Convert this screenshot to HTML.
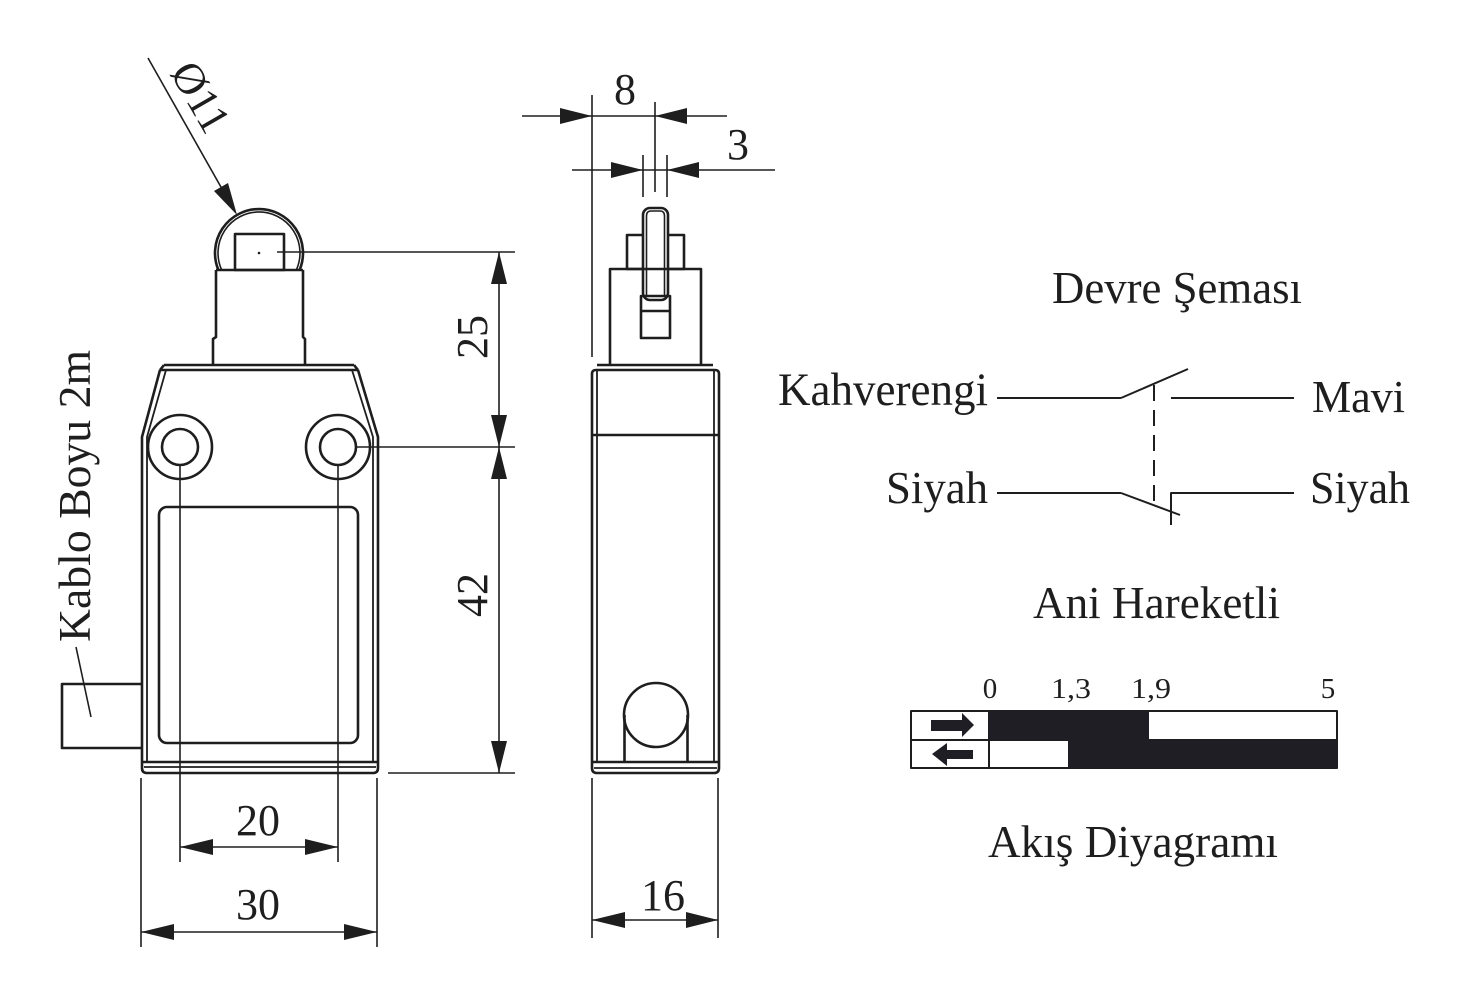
<!DOCTYPE html>
<html>
<head>
<meta charset="utf-8">
<style>
html,body{margin:0;padding:0;background:#fff;}
svg{display:block;}
text{font-family:"Liberation Serif","DejaVu Serif",serif;fill:#1e1e1e;}
</style>
</head>
<body>
<svg width="1469" height="1006" viewBox="0 0 1469 1006" xmlns="http://www.w3.org/2000/svg">
<rect width="1469" height="1006" fill="#fff"/>
<g fill="none" stroke="#1e1e1e" stroke-linecap="butt" stroke-linejoin="round">

<!-- ============ FRONT VIEW ============ -->
<g stroke-width="2.6">
  <!-- roller arcs -->
  <path d="M218.4,270 A44,44 0 1 1 299.6,270"/>
  <path d="M221.7,270 A41,41 0 1 1 296.3,270" stroke-width="1.6"/>
  <!-- square in roller -->
  <rect x="235" y="234" width="49" height="36"/>
  <!-- plunger -->
  <path d="M216,270 L303,270 M216,270 L216,337 L213,339 L213,364 M303,270 L303,337 L305,339 L305,364"/>
  <!-- body top double line -->
  <path d="M164,365 L354,365"/>
  <path d="M160,370 L358,370"/>
  <!-- outer chamfer + sides -->
  <path d="M160,370 L142,437 L142,768 Q142,773 147,773 L373,773 Q378,773 378,768 L378,437 L358,370"/>
  <path d="M164,365 L160,370 M354,365 L358,370"/>
  <!-- inner lines -->
  <path d="M166,370 L147,437 L147,762" stroke-width="1.8"/>
  <path d="M352,370 L373,437 L373,762" stroke-width="1.8"/>
  <path d="M142,762 L378,762"/>
  <path d="M144,767 L376,767" stroke-width="1.8"/>
  <!-- holes -->
  <circle cx="180" cy="447" r="32"/>
  <circle cx="180" cy="447" r="18"/>
  <circle cx="338" cy="447" r="32"/>
  <circle cx="338" cy="447" r="18"/>
  <!-- inner rounded rect -->
  <rect x="159" y="507" width="199" height="236" rx="8"/>
  <!-- cable -->
  <path d="M141,684 L62,684 L62,748 L141,748"/>
</g>
<circle cx="259" cy="253" r="1.3" fill="#1e1e1e" stroke="none"/>

<!-- front dims thin -->
<g stroke-width="1.6">
  <!-- Ø11 leader -->
  <line x1="148" y1="58" x2="230" y2="203"/>
  <!-- cable leader -->
  <line x1="76" y1="647" x2="91" y2="717"/>
  <!-- vertical dims -->
  <line x1="277" y1="252" x2="515" y2="252"/>
  <line x1="357" y1="447" x2="515" y2="447"/>
  <line x1="388" y1="773" x2="515" y2="773"/>
  <line x1="499" y1="252" x2="499" y2="773"/>
  <!-- 20 -->
  <line x1="180" y1="465" x2="180" y2="862"/>
  <line x1="338" y1="465" x2="338" y2="862"/>
  <line x1="180" y1="847" x2="338" y2="847"/>
  <!-- 30 -->
  <line x1="141" y1="778" x2="141" y2="947"/>
  <line x1="377" y1="778" x2="377" y2="947"/>
  <line x1="141" y1="932" x2="377" y2="932"/>
</g>

<!-- ============ SIDE VIEW ============ -->
<g stroke-width="2.6">
  <!-- roller -->
  <rect x="643" y="208" width="25" height="92" rx="7"/>
  <path d="M646.5,296 L646.5,216 Q646.5,211 651,211 L660,211 Q664.5,211 664.5,216 L664.5,296" stroke-width="1.6"/>
  <rect x="641" y="296" width="29" height="42"/>
  <line x1="641" y1="311" x2="670" y2="311"/>
  <!-- side blocks -->
  <path d="M643,269 L627,269 L627,235 L643,235"/>
  <path d="M668,269 L684,269 L684,235 L668,235"/>
  <!-- plunger base -->
  <path d="M610,365 L610,269 L701,269 L701,365"/>
  <!-- body -->
  <path d="M597,365 L713,365"/>
  <path d="M592,768 L592,374 Q592,370 596,370 L715,370 Q719,370 719,374 L719,768 Q719,773 714,773 L597,773 Q592,773 592,768 Z"/>
  <path d="M597,370 L597,762 M714,370 L714,762" stroke-width="1.8"/>
  <line x1="592" y1="435" x2="719" y2="435"/>
  <line x1="592" y1="762" x2="719" y2="762"/>
  <line x1="594" y1="768" x2="717" y2="768" stroke-width="1.8"/>
  <!-- circle -->
  <circle cx="656" cy="715" r="32"/>
  <path d="M624.5,715 L624.5,762 M687.5,715 L687.5,762"/>
</g>
<g stroke-width="1.6">
  <!-- dim 8 -->
  <line x1="522" y1="116" x2="727" y2="116"/>
  <line x1="592" y1="95" x2="592" y2="357"/>
  <line x1="655" y1="102" x2="655" y2="192"/>
  <!-- dim 3 -->
  <line x1="572" y1="170" x2="775" y2="170"/>
  <line x1="643" y1="155" x2="643" y2="197"/>
  <line x1="667" y1="155" x2="667" y2="197"/>
  <!-- dim 16 -->
  <line x1="592" y1="778" x2="592" y2="938"/>
  <line x1="718" y1="778" x2="718" y2="938"/>
  <line x1="592" y1="920" x2="718" y2="920"/>
</g>

<!-- ============ SCHEMATIC ============ -->
<g stroke-width="2">
  <line x1="997" y1="398" x2="1121" y2="398"/>
  <line x1="1121" y1="398" x2="1188" y2="369"/>
  <line x1="1171" y1="398" x2="1294" y2="398"/>
  <line x1="997" y1="493" x2="1121" y2="493"/>
  <line x1="1121" y1="493" x2="1180" y2="515"/>
  <path d="M1294,493 L1171,493 L1171,525"/>
  <line x1="1154" y1="385" x2="1154" y2="505" stroke-dasharray="16,9"/>
</g>

<!-- ============ TABLE ============ -->
<g stroke-width="2">
  <rect x="911" y="711" width="426" height="57"/>
  <line x1="911" y1="740" x2="1337" y2="740"/>
  <line x1="989" y1="711" x2="989" y2="768"/>
</g>
</g>

<!-- filled shapes -->
<g fill="#1e1e24" stroke="none">
  <rect x="989" y="711" width="160" height="29"/>
  <rect x="1068" y="740" width="269" height="28"/>
  <!-- table arrows -->
  <polygon points="931,720 962,720 962,713 974,725 962,737 962,731 931,731"/>
  <polygon points="932,754 947,743 947,750 973,750 973,759 947,759 947,766"/>
</g>

<g fill="#1e1e1e" stroke="none">
  <!-- Ø11 arrowhead -->
  <polygon points="237,215 228,183 214,191"/>
  <!-- vertical dims -->
  <polygon points="499,252 491,284 507,284"/>
  <polygon points="499,447 491,415 507,415"/>
  <polygon points="499,447 491,479 507,479"/>
  <polygon points="499,773 491,741 507,741"/>
  <!-- 20 -->
  <polygon points="180,847 213,839 213,855"/>
  <polygon points="338,847 305,839 305,855"/>
  <!-- 30 -->
  <polygon points="141,932 174,924 174,940"/>
  <polygon points="377,932 344,924 344,940"/>
  <!-- 8 -->
  <polygon points="592,116 560,108 560,124"/>
  <polygon points="655,116 687,108 687,124"/>
  <!-- 3 -->
  <polygon points="643,170 611,162 611,178"/>
  <polygon points="667,170 699,162 699,178"/>
  <!-- 16 -->
  <polygon points="592,920 625,912 625,928"/>
  <polygon points="718,920 686,912 686,928"/>
</g>

<!-- ============ TEXT ============ -->
<g font-size="44">
  <text transform="translate(201,97) rotate(60)" x="0" y="15" text-anchor="middle">Ø11</text>
  <text transform="translate(90,642) rotate(-90)" x="0" y="0" textLength="292" lengthAdjust="spacingAndGlyphs" font-size="45">Kablo Boyu 2m</text>
  <text transform="translate(472,337) rotate(-90)" x="0" y="15" text-anchor="middle">25</text>
  <text transform="translate(472,595) rotate(-90)" x="0" y="15" text-anchor="middle">42</text>
  <text x="258" y="835" text-anchor="middle">20</text>
  <text x="258" y="919" text-anchor="middle">30</text>
  <text x="625" y="104" text-anchor="middle">8</text>
  <text x="738" y="159" text-anchor="middle">3</text>
  <text x="663" y="910" text-anchor="middle">16</text>

  <text x="1052" y="303" textLength="250" lengthAdjust="spacingAndGlyphs" font-size="46">Devre Şeması</text>
  <text x="778" y="405" textLength="210" lengthAdjust="spacingAndGlyphs" font-size="47">Kahverengi</text>
  <text x="1312" y="412" textLength="93" lengthAdjust="spacingAndGlyphs" font-size="46">Mavi</text>
  <text x="886" y="503" textLength="102" lengthAdjust="spacingAndGlyphs" font-size="46">Siyah</text>
  <text x="1310" y="503" textLength="100" lengthAdjust="spacingAndGlyphs" font-size="46">Siyah</text>
  <text x="1033" y="618" textLength="247" lengthAdjust="spacingAndGlyphs" font-size="46">Ani Hareketli</text>
  <text x="988" y="857" textLength="290" lengthAdjust="spacingAndGlyphs" font-size="46">Akış Diyagramı</text>
</g>
<g font-size="29">
  <text x="990" y="698" text-anchor="middle">0</text>
  <text x="1071" y="698" text-anchor="middle" textLength="40" lengthAdjust="spacingAndGlyphs">1,3</text>
  <text x="1151" y="698" text-anchor="middle" textLength="40" lengthAdjust="spacingAndGlyphs">1,9</text>
  <text x="1328" y="698" text-anchor="middle">5</text>
</g>
</svg>
</body>
</html>
